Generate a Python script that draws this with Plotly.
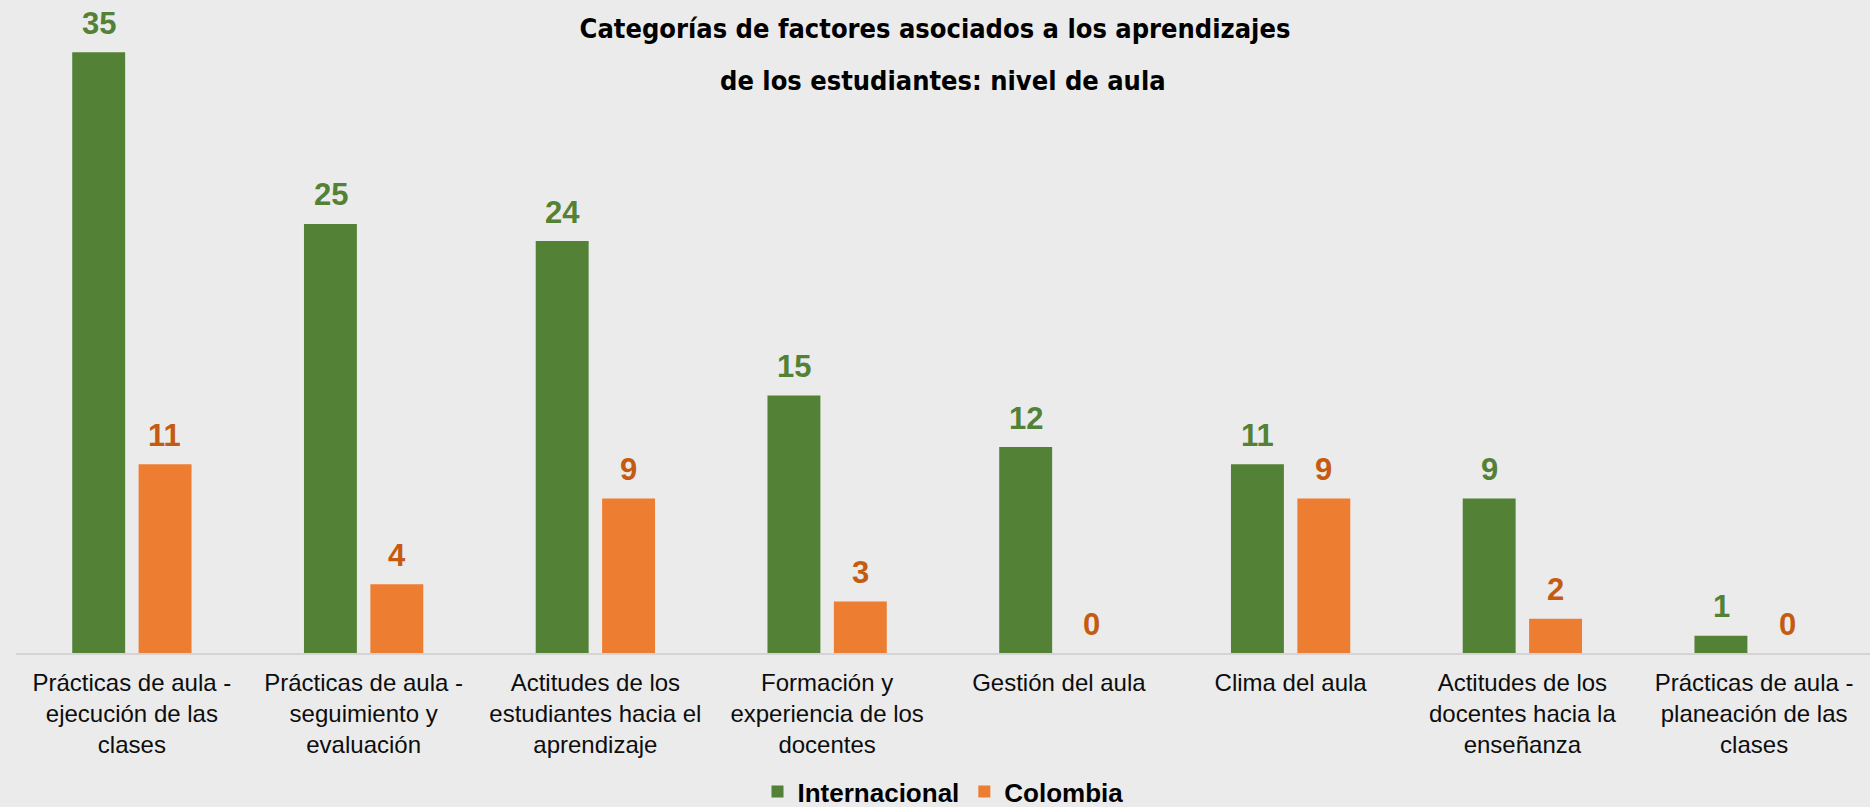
import plotly.graph_objects as go

categories = [
    "Prácticas de aula - ejecución de las clases",
    "Prácticas de aula - seguimiento y evaluación",
    "Actitudes de los estudiantes hacia el aprendizaje",
    "Formación y experiencia de los docentes",
    "Gestión del aula",
    "Clima del aula",
    "Actitudes de los docentes hacia la enseñanza",
    "Prácticas de aula - planeación de las clases",
]
tick_labels = [
    "Prácticas de aula -<br>ejecución de las<br>clases",
    "Prácticas de aula -<br>seguimiento y<br>evaluación",
    "Actitudes de los<br>estudiantes hacia el<br>aprendizaje",
    "Formación y<br>experiencia de los<br>docentes",
    "Gestión del aula",
    "Clima del aula",
    "Actitudes de los<br>docentes hacia la<br>enseñanza",
    "Prácticas de aula -<br>planeación de las<br>clases",
]
internacional = [35, 25, 24, 15, 12, 11, 9, 1]
colombia = [11, 4, 9, 3, 0, 9, 2, 0]
title_line1 = "Categorías de factores asociados a los aprendizajes"
title_line2 = "de los estudiantes: nivel de aula"

GREEN = "#538135"
ORANGE = "#ED7D31"
GREEN_TXT = "#538135"
ORANGE_TXT = "#C55A11"
BG = "#ebebeb"
TITLE_FONT = "Liberation Sans Narrow, DejaVu Sans Condensed"
TITLE_SIZE = 27

fig = go.Figure()
fig.add_trace(go.Bar(name="Internacional", x=categories, y=internacional,
                     marker=dict(color=GREEN, line=dict(width=0))))
fig.add_trace(go.Bar(name="Colombia", x=categories, y=colombia,
                     marker=dict(color=ORANGE, line=dict(width=0))))

annotations = []
for c, v in zip(categories, internacional):
    annotations.append(dict(x=c, y=v, xref="x", yref="y", text=str(v), showarrow=False,
                            xshift=-33, yshift=29, yanchor="middle",
                            font=dict(family="Liberation Sans, Arial", size=31, color=GREEN_TXT, weight="bold")))
for c, v in zip(categories, colombia):
    annotations.append(dict(x=c, y=v, xref="x", yref="y", text=str(v), showarrow=False,
                            xshift=33, yshift=29, yanchor="middle",
                            font=dict(family="Liberation Sans, Arial", size=31, color=ORANGE_TXT, weight="bold")))
# second title line
annotations.append(dict(x=0.5, y=(653 - 81) / 635, xref="paper", yref="paper", text=title_line2,
                        showarrow=False, xanchor="center", yanchor="middle",
                        font=dict(family=TITLE_FONT, size=TITLE_SIZE, color="#000000", weight="bold")))

fig.update_layout(
    width=1870, height=807,
    paper_bgcolor=BG, plot_bgcolor=BG,
    margin=dict(l=16, r=0, t=18, b=154),
    barmode="group", bargap=0.427, bargroupgap=0.203,
    title=dict(text=title_line1,
               x=0.5, xanchor="center", yref="container", y=1 - 29 / 807, yanchor="middle",
               font=dict(family=TITLE_FONT, size=TITLE_SIZE, color="#000000", weight="bold")),
    xaxis=dict(tickmode="array", tickvals=categories, ticktext=tick_labels,
               showline=True, linecolor="#d4d4d4", linewidth=2, ticks="",
               showgrid=False, zeroline=False, ticklabelstandoff=7,
               tickfont=dict(family="Liberation Sans, Arial", size=24, color="#0d0d0d")),
    yaxis=dict(range=[0, 37], visible=False, showgrid=False, zeroline=False),
    legend=dict(orientation="h", x=0.5, xanchor="center", yref="container", y=0.019, yanchor="middle",
                font=dict(family="Liberation Sans, Arial", size=26, color="#000000", weight="bold"),
                bgcolor="rgba(0,0,0,0)"),
    annotations=annotations,
    showlegend=True,
)

fig.write_html("out.html", config={"displayModeBar": False},
               post_script="document.body.style.margin='0';document.body.style.overflow='hidden';")
